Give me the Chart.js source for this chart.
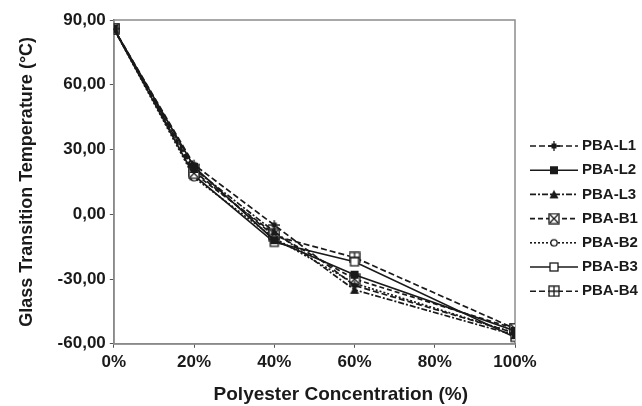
<!DOCTYPE html>
<html>
<head>
<meta charset="utf-8">
<script src="https://cdn.jsdelivr.net/npm/chart.js@4.4.1/dist/chart.umd.min.js"></script>
<style>
  html, body { margin: 0; padding: 0; background: #fff; }
  #wrap { width: 642px; height: 406px; }
</style>
</head>
<body>
<div id="wrap"><canvas id="tg_chart"></canvas></div>
<script>
(function(){
    // polyester concentration (%)
    var conc = [0, 20, 40, 60, 100];
    var series_names = ['PBA-L1', 'PBA-L2', 'PBA-L3', 'PBA-B1', 'PBA-B2', 'PBA-B3', 'PBA-B4'];
    // glass transition temperatures (°C)
    var tg_L1 = [86, 23, -5, -33, -55];
    var tg_L2 = [86, 22, -12, -28, -54];
    var tg_L3 = [86, 21, -8, -35, -56];
    var tg_B1 = [86, 19, -9, -30, -53];
    var tg_B2 = [86, 17, -11, -32, -55];
    var tg_B3 = [86, 18, -13, -22, -57];
    var tg_B4 = [86, 20, -10, -20, -53];
    var y_ticks = [-60, -30, 0, 30, 60, 90];
    var x_ticks = [0, 20, 40, 60, 80, 100];

    var ink = '#1a1a1a';
    var fam = '"Liberation Sans", Arial, sans-serif';

    // little marker pictures
    function marker(kind){
        var c = document.createElement('canvas');
        c.width = 12; c.height = 12;
        var g = c.getContext('2d');
        g.strokeStyle = ink; g.fillStyle = ink; g.lineWidth = 1.3;
        if (kind === 'plus') {
            g.fillRect(3.5, 3.5, 5, 5);
            g.beginPath(); g.moveTo(0, 6); g.lineTo(12, 6); g.moveTo(6, 1); g.lineTo(6, 11); g.stroke();
        } else if (kind === 'square') {
            g.fillRect(2, 2, 8, 8);
        } else if (kind === 'star') {
            g.beginPath(); g.moveTo(6, 1.5); g.lineTo(10.5, 10); g.lineTo(1.5, 10); g.closePath(); g.fill();
        } else if (kind === 'boxX') {
            g.fillStyle = '#fff'; g.fillRect(1, 1, 10, 10);
            g.strokeRect(1, 1, 10, 10);
            g.beginPath(); g.moveTo(2, 2); g.lineTo(10, 10); g.moveTo(10, 2); g.lineTo(2, 10); g.stroke();
        } else if (kind === 'circle') {
            g.fillStyle = '#fff';
            g.beginPath(); g.arc(6, 6, 3.2, 0, Math.PI * 2); g.fill(); g.stroke();
        } else if (kind === 'box') {
            g.fillStyle = '#fff'; g.fillRect(2, 2, 8, 8);
            g.strokeRect(2, 2, 8, 8);
        } else if (kind === 'boxPlus') {
            g.fillStyle = '#fff'; g.fillRect(1, 1, 10, 10);
            g.strokeRect(1, 1, 10, 10);
            g.beginPath(); g.moveTo(1, 6); g.lineTo(11, 6); g.moveTo(6, 1); g.lineTo(6, 11); g.stroke();
        }
        return c;
    }

    var all_tg = [tg_L1, tg_L2, tg_L3, tg_B1, tg_B2, tg_B3, tg_B4];
    var kinds = ['plus', 'square', 'star', 'boxX', 'circle', 'box', 'boxPlus'];
    var dashes = [[6, 3], [], [6, 2, 2, 2], [5, 3], [2, 2], [], [6, 3]];

    var datasets = series_names.map(function(name, i){
        return {
            label: name,
            data: conc.map(function(c, j){ return {x: c, y: all_tg[i][j]}; }),
            borderColor: ink,
            backgroundColor: ink,
            borderWidth: 1.7,
            borderDash: dashes[i],
            pointStyle: marker(kinds[i]),
            showLine: true,
            tension: 0
        };
    });

    // grey frame round the plot and a hand-drawn legend with dash + marker
    const framePlugin = {
        id: 'frame',
        beforeDatasetsDraw(chart) {
            var a = chart.chartArea, ctx = chart.ctx;
            ctx.save();
            ctx.strokeStyle = '#8c8c8c';
            ctx.lineWidth = 1.5;
            ctx.strokeRect(a.left, a.top, a.right - a.left, a.bottom - a.top);
            ctx.restore();
        },
        afterDraw(chart) {
            var ctx = chart.ctx;
            ctx.save();
            ctx.font = 'bold 15px ' + fam;
            ctx.textBaseline = 'middle';
            series_names.forEach(function(name, i){
                var y = 146 + i * 24.2;
                ctx.strokeStyle = ink;
                ctx.lineWidth = 1.6;
                ctx.setLineDash(dashes[i]);
                ctx.beginPath(); ctx.moveTo(530, y); ctx.lineTo(578, y); ctx.stroke();
                ctx.setLineDash([]);
                ctx.drawImage(chart.data.datasets[i].pointStyle, 548, y - 6);
                ctx.fillStyle = ink;
                ctx.fillText(name, 582, y);
            });
            ctx.restore();
        }
    };

    const config = {
        type: 'scatter',
        data: { datasets: datasets },
        options: {
            responsive: true,
            maintainAspectRatio: false,
            animation: false,
            layout: { padding: { top: 20, right: 127, bottom: 0, left: 16 } },
            scales: {
                x: {
                    type: 'linear',
                    min: 0,
                    max: 100,
                    afterBuildTicks: function(axis){ axis.ticks = x_ticks.map(function(v){ return {value: v}; }); },
                    grid: { drawOnChartArea: false, tickLength: 4, color: '#555' },
                    border: { color: '#555', width: 1.5 },
                    ticks: {
                        color: ink,
                        padding: 4,
                        font: { family: fam, size: 17, weight: 'bold' },
                        callback: function(value){ return value + '%'; }
                    },
                    title: {
                        display: true,
                        text: '          Polyester Concentration (%)',
                        color: ink,
                        padding: { top: 7, bottom: 0 },
                        font: { family: fam, size: 19, weight: 'bold' }
                    }
                },
                y: {
                    type: 'linear',
                    min: -60,
                    max: 90,
                    afterBuildTicks: function(axis){ axis.ticks = y_ticks.map(function(v){ return {value: v}; }); },
                    grid: { drawOnChartArea: false, tickLength: 4, color: '#555' },
                    border: { color: '#555', width: 1.5 },
                    ticks: {
                        color: ink,
                        padding: 4,
                        font: { family: fam, size: 17, weight: 'bold' },
                        callback: function(value){ return value.toFixed(2).replace('.', ','); }
                    },
                    title: {
                        display: true,
                        text: 'Glass Transition Temperature (°C)',
                        color: ink,
                        padding: { top: 0, bottom: 16 },
                        font: { family: fam, size: 18, weight: 'bold' }
                    }
                }
            },
            plugins: {
                legend: { display: false },
                tooltip: { enabled: false }
            }
        },
        plugins: [framePlugin]
    };

    const tgChart = new Chart(document.getElementById('tg_chart'), config);
})();
</script>
</body>
</html>
